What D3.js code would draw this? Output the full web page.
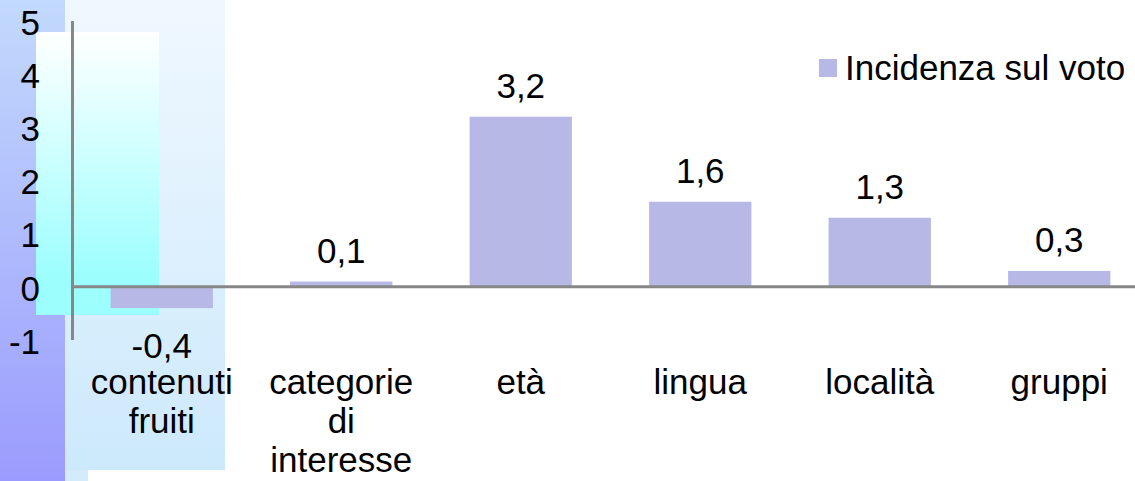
<!DOCTYPE html>
<html>
<head>
<meta charset="utf-8">
<script src="https://cdn.jsdelivr.net/npm/d3@7"></script>
<style>
  html, body { margin: 0; padding: 0; background: #fff; }
  svg { display: block; font-family: Arial, "Liberation Sans", sans-serif; }
</style>
</head>
<body>
<svg id="chart" width="1135" height="481"></svg>
<script>
// Data
const categories = ["contenuti fruiti", "categorie di interesse", "età", "lingua", "località", "gruppi"];
const values = [-0.4, 0.1, 3.2, 1.6, 1.3, 0.3];
const valueLabels = ["-0,4", "0,1", "3,2", "1,6", "1,3", "0,3"];
const yTicks = [-1, 0, 1, 2, 3, 4, 5];
const seriesName = "Incidenza sul voto";

const W = 1135, H = 481;
const svg = d3.select("#chart");
const defs = svg.append("defs");

// Slide decoration gradients
function vGrad(id, stops) {
  const g = defs.append("linearGradient").attr("id", id)
    .attr("x1", 0).attr("y1", 0).attr("x2", 0).attr("y2", 1);
  stops.forEach(([o, c]) => g.append("stop").attr("offset", o).attr("stop-color", c));
}
vGrad("stripGrad", [[0, "#c2dafc"], [1, "#9b9bfd"]]);
vGrad("panelGrad", [[0, "#f0f8ff"], [1, "#cce9fc"]]);
vGrad("cyanGrad", [[0, "#ffffff"], [0.86, "#9dfefe"], [1, "#9dfefe"]]);

const deco = svg.append("g");
deco.append("rect").attr("x", 0).attr("y", 0).attr("width", 65).attr("height", H).attr("fill", "url(#stripGrad)");
deco.append("rect").attr("x", 65).attr("y", 0).attr("width", 160).attr("height", 470).attr("fill", "url(#panelGrad)");
deco.append("rect").attr("x", 65).attr("y", 470).attr("width", 23).attr("height", 11).attr("fill", "#d4ebfc");
deco.append("rect").attr("x", 36).attr("y", 32).attr("width", 123).attr("height", 283).attr("fill", "url(#cyanGrad)");

// Scales
const x = d3.scaleBand().domain(categories).range([72, 1149]).paddingInner(0.43).paddingOuter(0.215);
const y = d3.scaleLinear().domain([-1, 5]).range([340, 21]);

const FS = 35;

// Y axis tick labels (no tick marks)
const yAxis = d3.axisLeft(y).tickValues(yTicks).tickSize(0).tickPadding(0).tickFormat(d => String(d));
const gy = svg.append("g").attr("transform", "translate(40,2)").call(yAxis);
gy.select(".domain").remove();
gy.selectAll("text").attr("font-size", FS).attr("fill", "#000").attr("font-family", "Arial, 'Liberation Sans', sans-serif");

// Bars
svg.append("g").selectAll("rect").data(values).join("rect")
  .attr("x", (d, i) => x(categories[i]))
  .attr("width", x.bandwidth())
  .attr("y", d => y(Math.max(0, d)))
  .attr("height", d => Math.abs(y(d) - y(0)))
  .attr("fill", "#b8b8e6");

// Axis lines
svg.append("line").attr("x1", 72.5).attr("x2", 72.5).attr("y1", y(5)).attr("y2", y(-1))
  .attr("stroke", "#878787").attr("stroke-width", 3);
svg.append("line").attr("x1", 72).attr("x2", W).attr("y1", y(0)).attr("y2", y(0))
  .attr("stroke", "#878787").attr("stroke-width", 3);

// Value labels
svg.append("g").selectAll("text").data(values).join("text")
  .attr("x", (d, i) => x(categories[i]) + x.bandwidth() / 2)
  .attr("y", d => d >= 0 ? y(d) - 19 : y(d) + 50)
  .attr("text-anchor", "middle").attr("font-size", FS).attr("fill", "#000")
  .text((d, i) => valueLabels[i]);

// Category labels, wrapped word by word
const catG = svg.append("g").selectAll("text").data(categories).join("text")
  .attr("x", d => x(d) + x.bandwidth() / 2)
  .attr("y", 394)
  .attr("text-anchor", "middle").attr("font-size", FS).attr("fill", "#000");
catG.each(function(d) {
  const t = d3.select(this);
  d.split(" ").forEach((w, k) => {
    t.append("tspan").attr("x", x(d) + x.bandwidth() / 2).attr("dy", k === 0 ? 0 : 39).text(w);
  });
});

// Legend
const lg = svg.append("g");
lg.append("rect").attr("x", 819).attr("y", 59).attr("width", 18).attr("height", 18).attr("fill", "#b8b8e6");
lg.append("text").attr("x", 845).attr("y", 80).attr("font-size", FS).attr("fill", "#000").text(seriesName);
</script>
</body>
</html>
